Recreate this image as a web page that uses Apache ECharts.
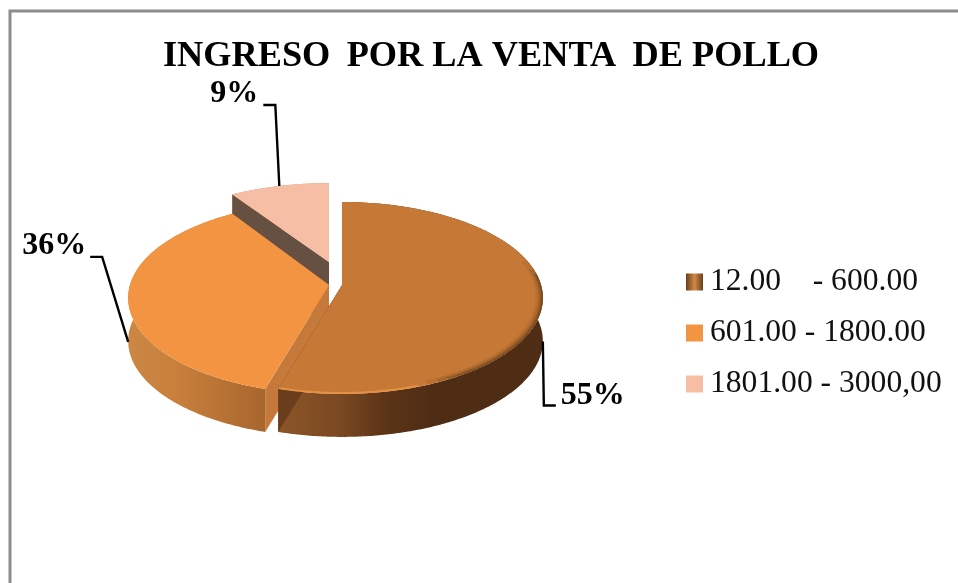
<!DOCTYPE html>
<html>
<head>
<meta charset="utf-8">
<style>html,body{margin:0;padding:0;background:#fff}#c{width:958px;height:583px}</style>
<script src="https://cdn.jsdelivr.net/npm/echarts@6/dist/echarts.min.js"></script>
</head>
<body>
<div id="c"></div>
<script>
const chartTitle = 'INGRESO\u2009 POR LA VENTA\u2009 DE POLLO';
const categories = ['12.00    - 600.00', '601.00 - 1800.00', '1801.00 - 3000,00'];
const values = [54.5, 36.4, 9.1];

// look of each slice
const topColors = ['#C67936', '#F29442', '#F6BFA5'];
const centers = [[342, 285], [329, 285], [329, 262]];
const heightScale = [1, 1, 0.95];
const labelOffsets = [[18, 54, 'left'], [-42, -96, 'right'], [-21, -92, 'right']];
const leaderElbows = [[[1, 64], [13, 64]], [[-26, -85], [-38, -85]], [[-4, -81], [-16, -81]]];

// projected-disc parameters
const RX = 199, RY = 94.2, PERSP = 0.135, THICK = 43;

const total = values.reduce((a, b) => a + b, 0);
const starts = [];
values.reduce((acc, v, i) => { starts[i] = acc; return acc + v; }, 0);
const ang = v => v / total * 2 * Math.PI;

function P(i, t, r, withDepth) {
  const u = Math.sin(t) * r, v = Math.cos(t) * r, d = 1 + PERSP * v, c = centers[i];
  return [c[0] + RX * u / d, c[1] - RY * heightScale[i] * v / d + (withDepth ? THICK : 0)];
}
function arc(i, a, b, r, depth) {
  const n = Math.max(2, Math.ceil(Math.abs(b - a) * 90)), pts = [];
  for (let k = 0; k <= n; k++) pts.push(P(i, a + (b - a) * k / n, r, depth));
  return pts;
}
function poly(points, fill, z2) {
  return { type: 'polygon', silent: true, z2: z2 || 0, shape: { points }, style: { fill, stroke: null } };
}
function grad(stops) {
  return new echarts.graphic.LinearGradient(stops[0][0], 0, stops[stops.length - 1][0], 0,
    stops.map(s => ({ offset: (s[0] - stops[0][0]) / (stops[stops.length - 1][0] - stops[0][0]), color: s[1] })), true);
}
const wallFills = [
  grad([[278, '#8C5527'], [340, '#7A4822'], [385, '#5C3416'], [430, '#4F2D14'], [545, '#4F2D14']]),
  grad([[128, '#CB8745'], [175, '#C9803C'], [265, '#A8662D']]),
  '#C98A60'
];
const cutFills = ['#6A3E1C', '#C5793A', '#655041'];

function makeSlice(i) {
  return function (params, api) {
    const v = api.value(0);
    const a = ang(starts[i]), b = a + ang(v), mid = (a + b) / 2;
    const c = centers[i], kids = [];
    const low = [c[0], c[1] + THICK];
    // outer wall, then cut faces
    kids.push(poly(arc(i, a, b, 1).concat(arc(i, b, a, 1, true)), wallFills[i], 0));
    kids.push(poly([c, P(i, a, 1), P(i, a, 1, true), low], cutFills[i], 1));
    kids.push(poly([c, P(i, b, 1), P(i, b, 1, true), low], cutFills[i], 1));
    // top face
    kids.push(poly([c].concat(arc(i, a, b, 1)), topColors[i], 2));
    // soft bevel on the largest slice
    if (i === 0) {
      [[0.965, 1.3, 2.75, 0.09], [0.975, 1.4, 2.7, 0.15], [0.985, 1.45, 2.65, 0.22], [0.993, 1.45, 2.6, 0.3]].forEach(s => {
        kids.push(poly(arc(i, s[1], s[2], 1).concat(arc(i, s[2], s[1], s[0])), 'rgba(70,38,12,' + s[3] + ')', 3));
      });
      kids.push(poly(arc(i, 2.8, b, 1).concat(arc(i, b, 2.8, 0.985)), 'rgba(240,150,70,0.8)', 3));
    }
    // leader line and percent label
    const base = P(i, mid, 1, i < 2);
    const e = leaderElbows[i], o = labelOffsets[i];
    kids.push({ type: 'polyline', silent: true, z2: 5, shape: { points: [base, [base[0] + e[0][0], base[1] + e[0][1]], [base[0] + e[1][0], base[1] + e[1][1]]] }, style: { fill: null, stroke: '#000', lineWidth: 2.4 } });
    kids.push({ type: 'text', silent: true, z2: 6, style: { x: base[0] + o[0], y: base[1] + o[1], text: Math.round(v / total * 100) + '%', fill: '#000', font: 'bold 32px "Liberation Serif"', textAlign: o[2], textVerticalAlign: 'middle' } });
    return { type: 'group', children: kids };
  };
}

const drawZ = [4, 3, 2];
const chart = echarts.init(document.getElementById('c'));
chart.setOption({
  animation: false,
  backgroundColor: '#fff',
  title: {
    text: chartTitle, left: 486, top: 34, textAlign: 'center',
    textStyle: { fontFamily: 'Liberation Serif', fontWeight: 'bold', fontSize: 36.3, color: '#000' }
  },
  legend: {
    orient: 'vertical', left: 686, top: 266, padding: 0, itemWidth: 17, itemHeight: 17, itemGap: 19,
    selectedMode: false, icon: 'rect',
    textStyle: { fontFamily: 'Liberation Serif', fontSize: 31.6, lineHeight: 31, color: '#111', padding: [0, 0, 0, 2] },
    data: [
      { name: categories[0], itemStyle: { color: new echarts.graphic.LinearGradient(0, 0, 1, 0, [{ offset: 0, color: '#6B3E1B' }, { offset: 0.5, color: '#D08A48' }, { offset: 1, color: '#6B3E1B' }]) } },
      { name: categories[1] }, { name: categories[2] }
    ]
  },
  graphic: [{ type: 'polyline', silent: true, shape: { points: [[10, 583], [10, 11], [958, 11]] }, style: { fill: null, stroke: '#8C8C8C', lineWidth: 3 } }],
  series: categories.map((name, i) => ({
    type: 'custom', name, coordinateSystem: 'none', z: drawZ[i], silent: true,
    itemStyle: { color: topColors[i] },
    data: [[values[i]]],
    renderItem: makeSlice(i)
  }))
});
</script>
</body>
</html>
